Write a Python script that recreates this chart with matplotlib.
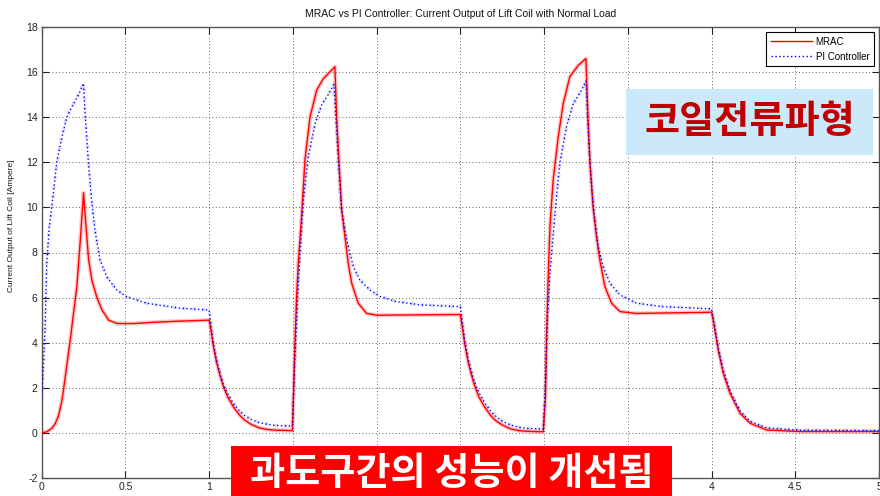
import matplotlib
matplotlib.use("Agg")
import matplotlib.pyplot as plt
from matplotlib.patches import Rectangle

plt.rcParams['font.family'] = ['Liberation Sans', 'DejaVu Sans']
plt.rcParams['axes.unicode_minus'] = False

# MRAC controller: coil current [A] vs time [s]
mrac_t = [0.00, 0.03, 0.06, 0.08, 0.10, 0.12, 0.13, 0.15, 0.17, 0.19, 0.21, 0.23, 0.25,
          0.26, 0.28, 0.30, 0.33, 0.36, 0.40, 0.45, 0.55, 0.65, 0.80, 1.00,
          1.01, 1.025, 1.045, 1.065, 1.085, 1.11, 1.145, 1.18, 1.21, 1.25, 1.30, 1.35, 1.40, 1.497,
          1.505, 1.512, 1.522, 1.532, 1.552, 1.572, 1.602, 1.642, 1.681, 1.72, 1.751,
          1.761, 1.777, 1.791, 1.811, 1.831, 1.851, 1.89, 1.94, 2.00, 2.50,
          2.51, 2.525, 2.545, 2.565, 2.585, 2.61, 2.645, 2.68, 2.71, 2.75, 2.80, 2.85, 2.90, 2.995,
          3.008, 3.015, 3.025, 3.035, 3.054, 3.084, 3.114, 3.154, 3.204, 3.25,
          3.262, 3.274, 3.293, 3.313, 3.333, 3.363, 3.403, 3.453, 3.55, 4.00,
          4.01, 4.02, 4.04, 4.07, 4.11, 4.17, 4.23, 4.33, 4.53, 5.00]
mrac_i = [0.00, 0.05, 0.20, 0.40, 0.75, 1.40, 1.90, 3.00, 4.10, 5.30, 6.50, 8.50, 10.65,
          9.60, 7.70, 6.75, 6.00, 5.45, 5.00, 4.85, 4.85, 4.90, 4.95, 5.00,
          4.60, 3.85, 3.10, 2.55, 2.05, 1.60, 1.15, 0.80, 0.58, 0.38, 0.22, 0.15, 0.12, 0.10,
          2.00, 3.90, 6.00, 7.50, 9.60, 12.10, 14.00, 15.20, 15.70, 16.00, 16.24,
          14.00, 11.80, 9.90, 8.70, 7.50, 6.64, 5.75, 5.30, 5.22, 5.25,
          4.80, 4.00, 3.20, 2.60, 2.10, 1.60, 1.15, 0.78, 0.55, 0.35, 0.18, 0.10, 0.07, 0.05,
          1.50, 4.40, 7.00, 9.15, 11.20, 13.10, 14.60, 15.80, 16.30, 16.60,
          14.00, 11.96, 10.00, 8.70, 7.67, 6.49, 5.75, 5.38, 5.30, 5.35,
          5.00, 4.57, 3.68, 2.65, 1.76, 0.87, 0.43, 0.13, 0.06, 0.06]

# PI controller: coil current [A] vs time [s]
pi_t = [0.00, 0.01, 0.02, 0.03, 0.045, 0.06, 0.09, 0.12, 0.15, 0.19, 0.22, 0.25,
        0.258, 0.278, 0.298, 0.318, 0.348, 0.388, 0.448, 0.507, 0.627, 0.826, 1.00,
        1.01, 1.025, 1.045, 1.065, 1.085, 1.11, 1.145, 1.18, 1.21, 1.25, 1.30, 1.35, 1.40, 1.497,
        1.51, 1.532, 1.562, 1.592, 1.632, 1.672, 1.711, 1.745,
        1.757, 1.772, 1.79, 1.81, 1.831, 1.861, 1.90, 1.96, 2.02, 2.12, 2.26, 2.50,
        2.51, 2.525, 2.545, 2.565, 2.585, 2.61, 2.645, 2.68, 2.71, 2.75, 2.80, 2.85, 2.90, 2.995,
        3.01, 3.02, 3.035, 3.065, 3.094, 3.134, 3.174, 3.224, 3.25,
        3.26, 3.274, 3.293, 3.323, 3.353, 3.393, 3.453, 3.552, 3.711, 4.00,
        4.01, 4.02, 4.04, 4.07, 4.11, 4.17, 4.23, 4.33, 4.53, 5.00]
pi_i = [1.50, 3.00, 4.60, 7.50, 9.10, 10.00, 12.00, 13.10, 14.00, 14.60, 15.00, 15.50,
        14.30, 12.10, 10.30, 9.00, 7.67, 6.93, 6.34, 6.04, 5.75, 5.53, 5.45,
        4.80, 4.00, 3.20, 2.65, 2.15, 1.75, 1.30, 0.98, 0.78, 0.60, 0.45, 0.38, 0.33, 0.30,
        3.00, 6.64, 10.30, 12.25, 13.70, 14.55, 15.00, 15.45,
        14.00, 12.00, 10.00, 9.00, 8.26, 7.37, 6.78, 6.34, 6.05, 5.82, 5.68, 5.60,
        5.00, 4.15, 3.35, 2.75, 2.25, 1.80, 1.35, 0.98, 0.75, 0.52, 0.35, 0.25, 0.20, 0.17,
        2.50, 5.00, 7.08, 9.74, 11.96, 13.58, 14.60, 15.20, 15.60,
        14.00, 12.00, 10.10, 8.26, 7.37, 6.64, 6.12, 5.75, 5.60, 5.50,
        5.10, 4.65, 3.78, 2.78, 1.88, 0.98, 0.52, 0.22, 0.12, 0.10]

x_ticks = [0, 0.5, 1, 1.5, 2, 2.5, 3, 3.5, 4, 4.5, 5]
x_labels = ['0', '0.5', '1', '1.5', '2', '2.5', '3', '3.5', '4', '4.5', '5']
y_ticks = [-2, 0, 2, 4, 6, 8, 10, 12, 14, 16, 18]

title = 'MRAC vs PI Controller: Current Output of Lift Coil with Normal Load'
y_title = 'Current Output of Lift Coil [Ampere]'
note_top = '코일전류파형'
note_bottom = '과도구간의 성능이 개선됨'

W, H = 880, 496
fig = plt.figure(figsize=(W / 100, H / 100), dpi=100)
ax = fig.add_axes([41.7 / W, 1 - 478 / H, (879 - 41.7) / W, (478 - 27) / H])

# ripple band under each trace
ax.plot(pi_t, pi_i, color='#6f6fff', lw=2.6, alpha=0.25, ls=':', zorder=2)
ax.plot(mrac_t, mrac_i, color='#ff0000', lw=3.0, alpha=0.22, zorder=3)
ax.plot(mrac_t, mrac_i, color='#ff0000', lw=1.0, label='MRAC', zorder=4)
ax.plot(pi_t, pi_i, color='#0000ff', lw=1.0, ls=(0, (1, 1.8)), label='PI Controller', zorder=5)

ax.set_xlim(0, 5)
ax.set_ylim(-2, 18)
ax.set_xticks(x_ticks)
ax.set_xticklabels(x_labels)
ax.set_yticks(y_ticks)
ax.grid(True, color='black', ls=(0, (1, 3)), lw=0.6, alpha=0.8)
ax.tick_params(direction='in', length=5, width=0.8, top=True, right=True,
               labelsize=7.5, colors='#222222', pad=3)
for s in ax.spines.values():
    s.set_color('#555555')
    s.set_linewidth(1.0)

ax.set_title(title, fontsize=7.5, pad=7, color='#111111')
ax.set_ylabel(y_title, fontsize=6, color='#111111')
ax.yaxis.set_label_coords(-0.032, 0.56)

leg = ax.legend(loc='upper right', fontsize=7, fancybox=False, framealpha=1,
                edgecolor='black', handlelength=4.2, borderaxespad=0.5,
                borderpad=0.5, labelspacing=0.5, handletextpad=0.4)
leg.get_frame().set_linewidth(0.8)

# annotation boxes
fig.patches.append(Rectangle((626 / W, 1 - 155 / H), (873 - 626) / W, (155 - 89) / H,
                             transform=fig.transFigure, facecolor='#cce9fa',
                             edgecolor='none', zorder=10))
fig.text((626 + 873) / 2 / W, 1 - 122 / H, note_top, ha='center', va='center',
         fontsize=27.5, fontweight='bold', color='#c00000',
         family=['Noto Sans CJK KR', 'DejaVu Sans'], zorder=11)

fig.patches.append(Rectangle((231 / W, 0), (672 - 231) / W, (H - 446) / H,
                             transform=fig.transFigure, facecolor='#ff0000',
                             edgecolor='none', zorder=10))
fig.text((231 + 672) / 2 / W, 1 - 473 / H, note_bottom, ha='center', va='center',
         fontsize=27.5, fontweight='bold', color='white',
         family=['Noto Sans CJK KR', 'DejaVu Sans'], zorder=11)

fig.savefig('out.png', dpi=100)
